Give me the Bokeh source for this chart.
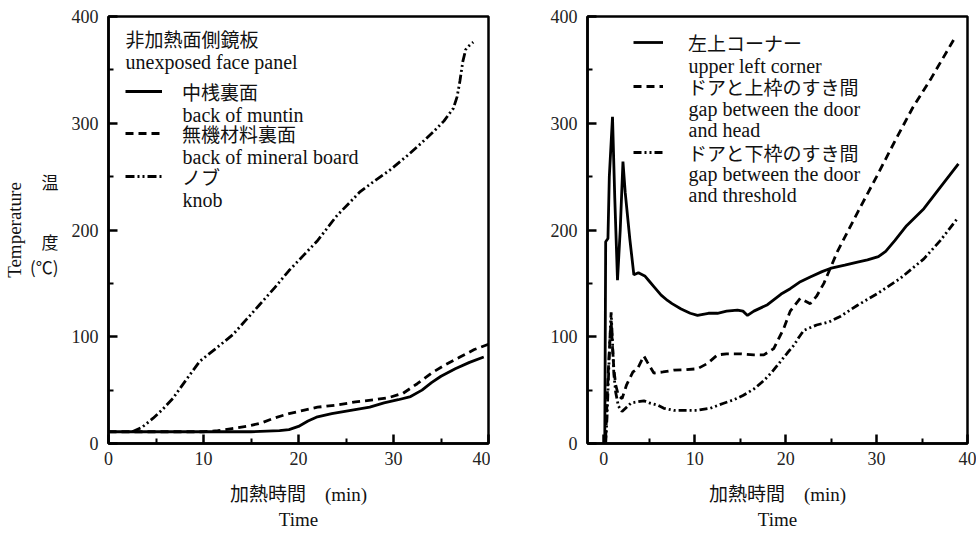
import math
from bokeh.plotting import figure
from bokeh.models import Range1d, Label, Legend, LegendItem, FixedTicker, LinearAxis
from bokeh.layouts import row
from bokeh.embed import file_html
from bokeh.resources import INLINE

# ---------------- data ----------------
x_ticks = [0, 10, 20, 30, 40]
x_minor = [5, 15, 25, 35]
y_ticks = [0, 100, 200, 300, 400]
y_minor = [50, 150, 250, 350]

# left panel: unexposed face panel
muntin_t = [0, 5, 10, 15, 18, 19, 20, 21, 22, 23.5, 25.5, 27.5, 29, 30.5, 31.8, 33, 34, 35, 36.5, 38, 39.5]
muntin_T = [11, 11, 11, 11, 12, 13, 16, 21, 25, 28, 31, 34, 38, 41, 44, 50, 57, 63, 70, 76, 81]

mineral_t = [0, 5, 10, 11.5, 13, 14.5, 16, 17.5, 19, 20.5, 22, 24, 26, 28, 29.5, 31, 32.5, 34, 35.5, 37, 38.5, 40]
mineral_T = [11, 11, 11, 12, 14, 16, 19, 24, 28, 31, 34, 36, 39, 41, 43, 47, 56, 66, 74, 81, 88, 93]

knob_t = [2.5, 3.5, 4.7, 5.7, 6.8, 8.2, 9.6, 11.3, 13.1, 14.5, 15.9, 17.5, 19.0, 20.5, 22.0, 24.0, 26.5, 28.0,
          29.6, 31.5, 33.0, 34.2, 35.3, 36.3, 36.7, 37.0, 37.3, 37.6, 38.0, 38.4]
knob_T = [11, 15, 23.7, 32, 42.5, 60, 77, 89, 102, 116, 130, 146, 162, 176, 190, 213, 236, 246,
          256, 270, 282, 292, 302, 314, 325, 340, 358, 369, 373, 376]

# right panel: gaps
corner_t = [0.1, 0.2, 0.45, 0.6, 0.95, 1.2, 1.5, 1.8, 2.1, 2.35, 2.85, 3.3, 3.8, 4.5, 5.0, 5.5, 6.3, 7.0, 7.5,
            8.5, 9.5, 10.3, 11.5, 12.5, 13.5, 14.7, 15.3, 15.8, 16.5, 18, 19.5, 20.5, 21.5, 22.7, 24, 24.9,
            26.5, 27.9, 29, 30.2, 31, 32, 33.3, 35.2, 37, 39]
corner_T = [0, 189, 192, 250, 306, 230, 153, 200, 264, 235, 192, 158, 160, 157, 152, 147, 139, 134, 131,
            126, 122, 120, 122, 122, 124, 125, 124, 120, 124, 130, 140, 145, 151, 156, 161, 164,
            167, 170, 172, 175, 180, 190, 204, 220, 240, 262]

head_t = [0.2, 0.35, 0.5, 0.65, 0.8, 0.95, 1.1, 1.3, 1.6, 2.0, 2.5, 3.2, 3.7, 4.4, 4.8, 5.5, 6.5, 7.7, 8.8,
          10.3, 11.4, 12.5, 13.5, 15, 16.5, 17.6, 18.7, 19.8, 20.5, 21.6, 22.7, 23.4, 24.2, 24.9, 25.7,
          28, 30, 32, 34, 36, 38.6]
head_T = [5, 40, 70, 95, 115, 90, 70, 55, 45, 42, 55, 67, 70, 82, 76, 66, 67, 68.7, 69,
          70, 75, 83, 84, 84, 83, 83, 89, 108, 124, 136, 131, 138, 150, 164, 180,
          218, 250, 283, 315, 342, 380]

thresh_t = [0.2, 0.35, 0.5, 0.65, 0.8, 0.95, 1.1, 1.3, 1.6, 2.0, 2.5, 3.0, 3.7, 4.4, 5.0, 5.9, 6.6, 7.7, 8.5,
            10.2, 11.7, 13.1, 14.3, 15.3, 16.5, 17.6, 18.5, 19.4, 20.2, 20.9, 21.5, 22.0, 23.4, 24.8, 26.0,
            27.9, 30.1, 32.6, 35.2, 37, 39]
thresh_T = [0, 25, 60, 95, 123, 95, 65, 48, 35, 30, 34, 38, 39, 40, 38, 36, 33, 31, 31,
            31, 33, 37.5, 41, 45, 51, 59, 67, 76.5, 85, 92, 100, 106, 111, 114, 119,
            129.5, 140.5, 154.6, 173, 190, 212]

# vertical Japanese y-axis title characters, placed at temperature positions
ytitle_pos = [245, 189, 166]
ytitle_chars = ["温", "度", "(℃)"]

SERIF = "Liberation Serif, Noto Sans CJK JP"
JP = "Noto Sans CJK JP"
XTITLE = "加熱時間　(min)\nTime"


def make_fig(width, height, bl, br, bt, bb, xr):
    p = figure(width=width, height=height, output_backend="svg", toolbar_location=None,
               x_range=Range1d(*xr), y_range=Range1d(0, 400),
               min_border_left=bl, min_border_right=br, min_border_top=bt, min_border_bottom=bb)
    p.grid.visible = False
    p.outline_line_color = "black"
    p.outline_line_width = 2.5
    p.outline_line_alpha = 1
    p.background_fill_color = "white"
    p.border_fill_color = "white"
    p.xaxis.ticker = FixedTicker(ticks=x_ticks, minor_ticks=x_minor)
    p.yaxis.ticker = FixedTicker(ticks=y_ticks, minor_ticks=y_minor)
    for ax in (p.xaxis[0], p.yaxis[0]):
        ax.axis_line_width = 2.5
        ax.axis_line_color = "black"
        ax.major_tick_in = 9
        ax.major_tick_out = 0
        ax.minor_tick_in = 5
        ax.minor_tick_out = 0
        ax.major_tick_line_width = 2.5
        ax.minor_tick_line_width = 2
        ax.major_tick_line_color = "black"
        ax.minor_tick_line_color = "black"
        ax.major_label_text_font = "Liberation Serif"
        ax.major_label_text_font_size = "18px"
        ax.major_label_text_color = "#222222"
    p.xaxis[0].major_label_standoff = 8
    p.yaxis[0].major_label_standoff = 10
    xa = p.xaxis[0]
    xa.axis_label = XTITLE
    xa.axis_label_text_font = SERIF
    xa.axis_label_text_font_size = "19px"
    xa.axis_label_text_font_style = "normal"
    xa.axis_label_text_color = "#111111"
    xa.axis_label_standoff = 16
    return p


def add_label(p, text, x, y, font=SERIF, size="20px"):
    p.add_layout(Label(x=x, y=y, x_units="screen", y_units="screen", text=text,
                       text_font=font, text_font_size=size, text_color="#111111",
                       text_align="left", text_baseline="middle"))


def add_item_legend(p, label, renderer, x, yc, glyph_width, standoff):
    h = 30
    lg = Legend(items=[LegendItem(label=label, renderers=[renderer])],
                location=(x, yc - h // 2), orientation="vertical",
                background_fill_alpha=0, border_line_alpha=0, padding=0, margin=0,
                glyph_width=glyph_width, glyph_height=h, label_height=h,
                label_standoff=standoff, label_text_font=JP, label_text_font_size="19px",
                label_text_color="#111111")
    p.add_layout(lg)


# ---------------- left figure ----------------
left = make_fig(490, 536, 108, 2, 16, 93, (0, 40))
r1 = left.line(muntin_t, muntin_T, line_color="black", line_width=2.8)
r2 = left.line(mineral_t, mineral_T, line_color="black", line_width=2.8, line_dash="8 5")
r3 = left.line(knob_t, knob_T, line_color="black", line_width=2.8, line_dash="9 3 2 3 2 3")

# extra left axis carrying the vertical Japanese title and "Temperature"
yt = LinearAxis(ticker=FixedTicker(ticks=ytitle_pos),
                major_label_overrides={v: c for v, c in zip(ytitle_pos, ytitle_chars)},
                axis_line_alpha=0, major_tick_line_alpha=0, minor_tick_line_alpha=0,
                major_tick_in=0, major_tick_out=0, minor_tick_in=0, minor_tick_out=0,
                major_label_standoff=10, major_label_text_font=JP,
                major_label_text_font_size="17px", major_label_text_color="#111111",
                axis_label="Temperature", axis_label_text_font="Liberation Serif",
                axis_label_text_font_size="19px", axis_label_text_font_style="normal",
                axis_label_text_color="#111111", axis_label_standoff=2)
left.add_layout(yt, "left")

add_label(left, "非加熱面側鏡板", 17, 405, font=JP, size="19px")
add_label(left, "unexposed face panel", 17, 382)
add_item_legend(left, "中桟裏面", r1, 17, 352, 37, 20)
add_label(left, "back of muntin", 74, 329)
add_item_legend(left, "無機材料裏面", r2, 17, 310, 37, 20)
add_label(left, "back of mineral board", 74, 287)
add_item_legend(left, "ノブ", r3, 17, 267, 37, 20)
add_label(left, "knob", 74, 244)

# ---------------- right figure ----------------
right = make_fig(486, 536, 97, 9, 16, 93, (-1.8, 40))
s1 = right.line(corner_t, corner_T, line_color="black", line_width=2.8)
s2 = right.line(head_t, head_T, line_color="black", line_width=2.8, line_dash="8 5")
s3 = right.line(thresh_t, thresh_T, line_color="black", line_width=2.8, line_dash="8 3 2 3 2 3")

add_item_legend(right, "左上コーナー", s1, 46, 401, 30, 25)
add_label(right, "upper left corner", 101, 378)
add_item_legend(right, "ドアと上枠のすき間", s2, 46, 357, 30, 25)
add_label(right, "gap between the door", 101, 335)
add_label(right, "and head", 101, 314)
add_item_legend(right, "ドアと下枠のすき間", s3, 46, 291, 30, 25)
add_label(right, "gap between the door", 101, 270)
add_label(right, "and threshold", 101, 249)

layout = row(left, right)
open("out.html", "w").write(file_html(layout, INLINE))
